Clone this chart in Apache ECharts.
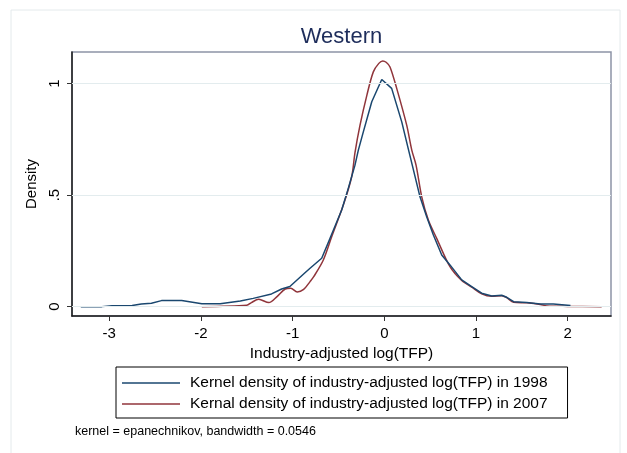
<!DOCTYPE html>
<html>
<head>
<meta charset="utf-8">
<script src="https://cdn.jsdelivr.net/npm/echarts@6/dist/echarts.min.js"></script>
<style>
  html, body { margin: 0; padding: 0; background: #fff; }
  #chart { width: 627px; height: 453px; }
</style>
</head>
<body>
<div id="chart"></div>
<script>
// kernel density, 1998 (navy)
const x1998 = [-3.31, -3.08, -2.97, -2.75, -2.65, -2.54, -2.43, -2.21, -1.99, -1.79, -1.57, -1.43,
  -1.23, -1.12, -1.03, -0.865, -0.81, -0.683, -0.592, -0.465, -0.393, -0.32, -0.284, -0.229,
  -0.137, -0.028, 0.08, 0.19, 0.262, 0.316, 0.389, 0.462, 0.535, 0.626, 0.716, 0.844, 0.953,
  1.062, 1.171, 1.28, 1.335, 1.41, 1.553, 1.7, 1.843, 2.03];
const y1998 = [0.0, 0.0, 0.004, 0.005, 0.012, 0.015, 0.027, 0.027, 0.013, 0.013, 0.025, 0.037,
  0.057, 0.079, 0.09, 0.152, 0.172, 0.217, 0.306, 0.433, 0.53, 0.634, 0.70, 0.783,
  0.918, 1.018, 0.978, 0.828, 0.706, 0.615, 0.492, 0.403, 0.321, 0.231, 0.187, 0.12, 0.09,
  0.06, 0.048, 0.051, 0.042, 0.022, 0.018, 0.012, 0.012, 0.005];

// kernel density, 2007 (maroon)
const x2007 = [-1.99, -1.5, -1.45, -1.37, -1.26, -1.17, -1.08, -1.02, -0.95, -0.88, -0.81, -0.77,
  -0.665, -0.574, -0.447, -0.356, -0.32, -0.265, -0.19, -0.12, -0.06, -0.017, 0.02, 0.062,
  0.135, 0.244, 0.3, 0.346, 0.408, 0.48, 0.571, 0.716, 0.844, 0.953, 1.062, 1.171, 1.28,
  1.335, 1.41, 1.553, 1.7, 1.77, 2.0, 2.37];
const y2007 = [0.0, 0.006, 0.018, 0.033, 0.018, 0.045, 0.079, 0.082, 0.066, 0.077, 0.112, 0.134,
  0.209, 0.313, 0.455, 0.582, 0.69, 0.813, 0.948, 1.052, 1.09, 1.101, 1.095, 1.074,
  0.978, 0.813, 0.70, 0.634, 0.492, 0.388, 0.306, 0.179, 0.117, 0.087, 0.057, 0.046, 0.049,
  0.04, 0.02, 0.017, 0.01, 0.003, 0.001, 0.0];

const xTicks = [-3, -2, -1, 0, 1, 2];
const yTicks = [0, 0.5, 1];
const names = [
  'Kernel density of industry-adjusted log(TFP) in 1998',
  'Kernal density of industry-adjusted log(TFP) in 2007'
];

const font = 'Liberation Sans, Arial, sans-serif';
const chart = echarts.init(document.getElementById('chart'));

chart.setOption({
  animation: false,
  textStyle: { fontFamily: font },
  graphic: [{
    type: 'rect',
    shape: { x: 11, y: 10, width: 609, height: 470 },
    style: { fill: 'none', stroke: '#e4eaec', lineWidth: 1 },
    silent: true
  }, {
    // plot title, centred over the plot region
    type: 'text',
    x: 341.5,
    y: 37,
    style: {
      text: 'Western',
      fontFamily: font,
      fontSize: 22,
      fill: '#1e2d5b',
      align: 'center',
      verticalAlign: 'middle'
    }
  }],
  title: [{
    text: 'kernel = epanechnikov, bandwidth = 0.0546',
    left: 75,
    top: 425,
    padding: 0,
    textStyle: { fontFamily: font, fontSize: 12.5, fontWeight: 'normal', color: '#000' }
  }],
  grid: {
    left: 72, right: 16, top: 52, bottom: 137,
    show: true,
    borderColor: '#8d94a6',
    borderWidth: 1.5
  },
  legend: {
    data: names,
    orient: 'vertical',
    left: 116,
    top: 367,
    icon: 'rect',
    itemWidth: 58,
    itemHeight: 1.5,
    itemGap: 5,
    padding: [8, 20, 6, 6],
    borderColor: '#000',
    borderWidth: 1,
    textStyle: { fontFamily: font, fontSize: 15.5, color: '#000', padding: [0, 0, 0, 5] }
  },
  xAxis: {
    type: 'value',
    min: -3.406,
    max: 2.472,
    name: 'Industry-adjusted log(TFP)',
    nameLocation: 'middle',
    nameGap: 26,
    nameTextStyle: { fontFamily: font, fontSize: 15.5, color: '#000' },
    axisLine: { show: true, onZero: false, lineStyle: { color: '#1a1a1a', width: 1.5 } },
    axisTick: { show: true, customValues: xTicks, length: 5, lineStyle: { color: '#333' } },
    axisLabel: { customValues: xTicks, margin: 10, fontSize: 15, color: '#000', fontFamily: font },
    splitLine: { show: false }
  },
  yAxis: {
    type: 'value',
    min: -0.042,
    max: 1.141,
    name: 'Density',
    nameLocation: 'middle',
    nameGap: 23,
    nameRotate: 90,
    nameTextStyle: { fontFamily: font, fontSize: 15, color: '#000' },
    axisLine: { show: true, onZero: false, lineStyle: { color: '#1a1a1a', width: 1.5 } },
    axisTick: { show: true, customValues: yTicks, length: 5, lineStyle: { color: '#333' } },
    axisLabel: {
      customValues: yTicks,
      rotate: 90,
      margin: 10,
      fontSize: 15,
      color: '#000',
      fontFamily: font,
      formatter: v => (v === 0.5 ? '.5' : String(v))
    },
    splitLine: { show: false }
  },
  series: [{
    // gridlines only, kept under the curves
    name: 'grid',
    type: 'line',
    data: [],
    z: 1,
    markLine: {
      silent: true,
      symbol: 'none',
      label: { show: false },
      lineStyle: { color: '#e3ecee', type: 'solid', width: 1.2 },
      data: yTicks.map(v => ({ yAxis: v }))
    }
  }, {
    name: names[0],
    type: 'line',
    z: 3,
    symbol: 'none',
    data: x1998.map((x, i) => [x, y1998[i]]),
    lineStyle: { color: '#1a476f', width: 1.5 },
    itemStyle: { color: '#1a476f' }
  }, {
    name: names[1],
    type: 'line',
    z: 2,
    symbol: 'none',
    smooth: 0.3,
    data: x2007.map((x, i) => [x, y2007[i]]),
    lineStyle: { color: '#90353b', width: 1.5 },
    itemStyle: { color: '#90353b' }
  }]
});
</script>
</body>
</html>
